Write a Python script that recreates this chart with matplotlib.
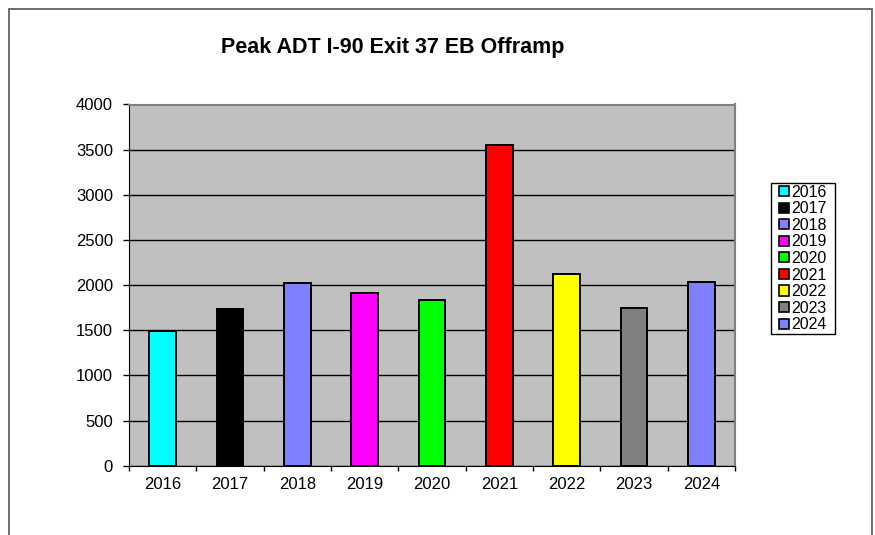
import matplotlib
matplotlib.use("Agg")
import matplotlib.pyplot as plt
from matplotlib.patches import Rectangle, Patch

years = ["2016", "2017", "2018", "2019", "2020", "2021", "2022", "2023", "2024"]
values = [1490, 1730, 2020, 1910, 1840, 3555, 2122, 1745, 2030]
colors = ["#00FFFF", "#000000", "#8080FF", "#FF00FF", "#00FF00",
          "#FF0000", "#FFFF00", "#808080", "#8080FF"]
yticks = [0, 500, 1000, 1500, 2000, 2500, 3000, 3500, 4000]

plt.rcParams['font.family'] = ['Liberation Sans', 'DejaVu Sans']

W, H = 875, 535
fig = plt.figure(figsize=(W / 100, H / 100), dpi=100)
fig.patch.set_facecolor("white")
fig.patches.append(Rectangle((8.5/W, -0.05), (872-8.5)/W, 1.05 - 9/H,
                             transform=fig.transFigure, fill=False,
                             edgecolor="#555555", linewidth=1.2))

ax = fig.add_axes([129/W, 1 - 465.7/H, (735-129)/W, (465.7-104.5)/H])
ax.set_facecolor("#C0C0C0")
x = list(range(len(years)))
ax.bar(x, values, width=0.4, color=colors, edgecolor="black", linewidth=1.4, zorder=3)

ax.set_ylim(0, 4000)
ax.set_xlim(-0.5, len(years) - 0.5)
ax.set_yticks(yticks)
ax.set_yticklabels([str(v) for v in yticks], fontsize=12)
ax.yaxis.grid(True, color="black", linewidth=1.0, zorder=1)
ax.set_axisbelow(True)
ax.set_xticks(x)
ax.set_xticklabels(years, fontsize=12)
ax.tick_params(axis='x', length=0, pad=8)
ax.set_xticks([i - 0.5 for i in range(len(years) + 1)], minor=True)
ax.tick_params(axis='x', which='minor', length=3.5, direction='out', width=1)
ax.tick_params(axis='y', length=4.5, direction='out', width=1, pad=7)
for side in ['top', 'right']:
    ax.spines[side].set_color("#808080")
    ax.spines[side].set_linewidth(1.5)
ax.spines['left'].set_color("black")
ax.spines['bottom'].set_color("black")

fig.text(393/W, 1 - 48/H, "Peak ADT I-90 Exit 37 EB Offramp", ha="center", va="center",
         fontsize=15.5, fontweight="bold")

handles = [Patch(facecolor=c, edgecolor="black", linewidth=1.2) for c in colors]
leg = fig.legend(handles, years, loc="center left", bbox_to_anchor=(779/W, 1 - 258.5/H),
                 fontsize=11.5, frameon=False,
                 handlelength=0.6, handleheight=0.6, handletextpad=0.15,
                 labelspacing=0.1, borderpad=0, borderaxespad=0)

fig.canvas.draw()
bb = leg.get_window_extent()
padx, pady = 8.5, 1.5
fig.patches.append(Rectangle(((bb.x0 - padx) / W, (bb.y0 - pady) / H),
                             (bb.width + 2 * padx) / W, (bb.height + 2 * pady) / H,
                             transform=fig.transFigure, fill=False,
                             edgecolor="black", linewidth=1.0))

fig.savefig("out.png", dpi=100, facecolor="white")
